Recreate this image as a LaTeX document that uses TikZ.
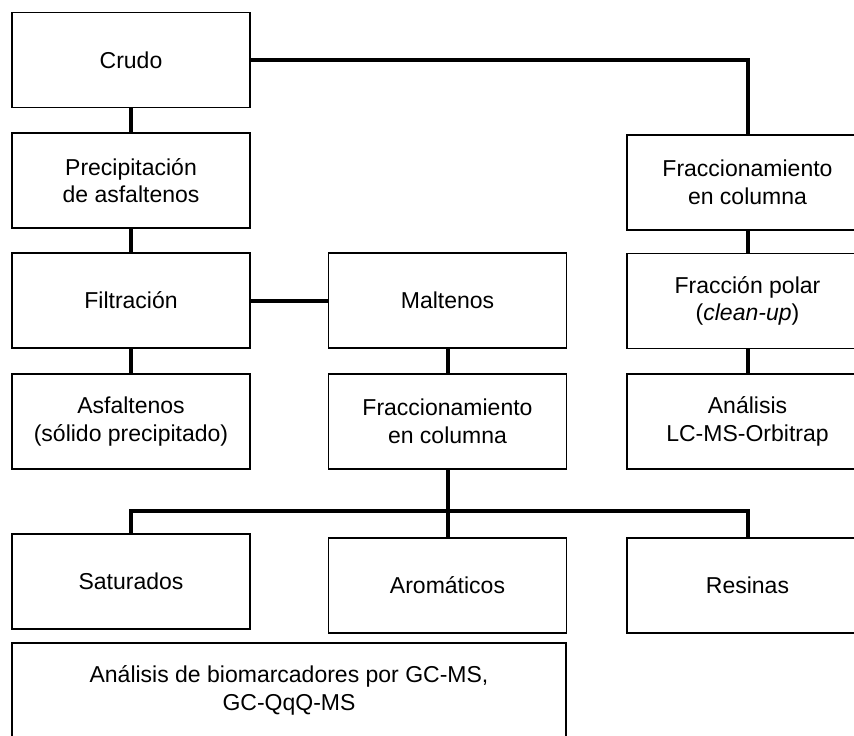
\documentclass[tikz,border=0pt]{standalone}
\usepackage{fontspec}
\setmainfont{Liberation Sans}

\tikzset{every picture/.style={line width=0.75pt}}
\tikzset{
  caja/.style={draw, fill=white, line width=0.9pt, align=center, inner sep=0pt,
    minimum width=178.5pt, minimum height=71.25pt,
    font=\fontsize{17.25}{20.7}\selectfont},
  enlace/.style={line width=3pt}
}

\begin{document}
\begin{tikzpicture}[x=0.75pt,y=0.75pt,yscale=-1,xscale=1]
\useasboundingbox (0,0) rectangle (854,736);
\clip (0,0) rectangle (854,736);

%Shape: Rectangle [left column]
\node [caja] (crudo) at (131,60) {Crudo};
\node [caja] (precip) at (131,180.5) {Precipitación\\de asfaltenos};
\node [caja] (filtr) at (131,300.5) {Filtración};
\node [caja] (asfal) at (131,421.5) {Asfaltenos\\(sólido precipitado)};
%Shape: Rectangle [middle column]
\node [caja] (malt) at (447.5,300.5) {Maltenos};
\node [caja] (fraccm) at (447.5,421.5) {Fraccionamiento\\en columna};
%Shape: Rectangle [right column]
\node [caja, minimum width=180.75pt] (fraccr) at (747.5,182.5) {Fraccionamiento\\en columna};
\node [caja, minimum width=180.75pt] (polar) at (747.5,301) {Fracción polar\\(\textit{clean-up})};
\node [caja, minimum width=180.75pt] (lcms) at (747.5,421.5) {Análisis\\LC-MS-Orbitrap};
%Shape: Rectangle [fractions]
\node [caja] (satur) at (131,581.5) {Saturados};
\node [caja] (arom) at (447.5,585.5) {Aromáticos};
\node [caja, minimum width=180.75pt] (resin) at (747.5,585.5) {Resinas};
\node [caja, minimum width=415.5pt] (biom) at (289,690.5) {Análisis de biomarcadores por GC-MS,\\GC-QqQ-MS};

%Straight Lines
\coordinate (bus) at (447.5,511);
\draw [enlace] (crudo.east) -| (fraccr.north);
\draw [enlace] (crudo) -- (precip);
\draw [enlace] (precip) -- (filtr);
\draw [enlace] (filtr) -- (asfal);
\draw [enlace] (filtr) -- (malt);
\draw [enlace] (malt) -- (fraccm);
\draw [enlace] (fraccr) -- (polar);
\draw [enlace] (polar) -- (lcms);
\draw [enlace] (fraccm) -- (arom);
\draw [enlace] (satur.north) |- (bus) -| (resin.north);

\end{tikzpicture}
\end{document}
